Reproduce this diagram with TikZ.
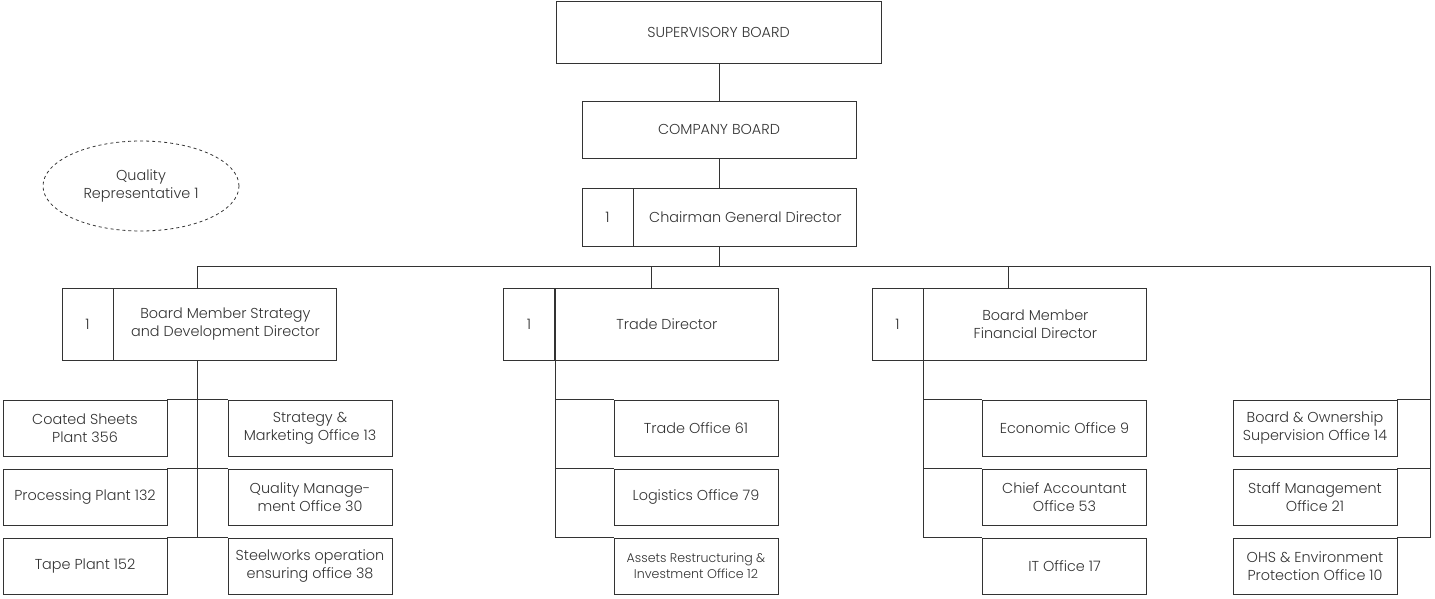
\documentclass[tikz,border=0pt]{standalone}
\usepackage{fontspec}
\setmainfont{Poppins Light}
\usetikzlibrary{positioning,shapes.geometric}
\definecolor{inkgray}{HTML}{333333}
\tikzstyle{unit} = [rectangle, draw=inkgray, line width=0.9pt, text=inkgray, align=center, inner sep=0pt, font=\fontsize{14.4}{18}\selectfont]
\tikzstyle{top} = [unit, minimum width=325pt, minimum height=62pt]
\tikzstyle{board} = [unit, minimum width=274pt, minimum height=57pt]
\tikzstyle{num} = [unit, minimum width=51pt]
\tikzstyle{head} = [unit, minimum width=223pt]
\tikzstyle{office} = [unit, minimum width=164pt, minimum height=56pt]
\tikzstyle{link} = [draw=inkgray, line width=0.9pt]

\begin{document}
\begin{tikzpicture}[x=1pt, y=1pt]
\useasboundingbox (0,0) rectangle (1435,-599);

% top of the chart
\node (sup) [top] at (718.5,-32) {SUPERVISORY BOARD};
\node (board) [board] at (719,-129.5) {COMPANY BOARD};
\node (chairnum) [num, minimum height=58pt] at (607.5,-217) {1};
\node (chair) [head, minimum height=58pt, right=0pt of chairnum] {Chairman General Director};

% directors
\node (sdnum) [num, minimum height=72pt] at (87.5,-324) {1};
\node (sd) [head, minimum height=72pt, right=0pt of sdnum] {Board Member Strategy\\and Development Director};
\node (tdnum) [num, minimum height=72pt] at (529,-324) {1};
\node (td) [head, minimum height=72pt, right=0pt of tdnum] {Trade Director};
\node (fdnum) [num, minimum height=72pt] at (897.5,-324) {1};
\node (fd) [head, minimum height=72pt, right=0pt of fdnum] {Board Member\\Financial Director};

% quality representative
\node (qr) [ellipse, draw=inkgray, dashed, line width=0.8pt, text=inkgray, align=center,
  minimum width=196pt, minimum height=90pt, inner sep=0pt, font=\fontsize{14.4}{18}\selectfont]
  at (141,-186) {Quality\\Representative 1};

% strategy and development offices
\node (cs) [office] at (85,-428) {Coated Sheets\\Plant 356};
\node (pp) [office] at (85,-497) {Processing Plant 132};
\node (tp) [office] at (85,-566) {Tape Plant 152};
\node (sm) [office] at (310,-428) {Strategy \&\\Marketing Office 13};
\node (qm) [office] at (310,-497) {Quality Manage-\\ment Office 30};
\node (sw) [office] at (310,-566) {Steelworks operation\\ensuring office 38};

% trade offices
\node (to) [office] at (696,-428) {Trade Office 61};
\node (lo) [office] at (696,-497) {Logistics Office 79};
\node (ar) [office, font=\fontsize{12.6}{16}\selectfont] at (696,-566) {Assets Restructuring \&\\Investment Office 12};

% financial offices
\node (eo) [office] at (1064.5,-428) {Economic Office 9};
\node (ca) [office] at (1064.5,-497) {Chief Accountant\\Office 53};
\node (it) [office] at (1064.5,-566) {IT Office 17};

% offices under the chairman
\node (bo) [office] at (1315,-428) {Board \& Ownership\\Supervision Office 14};
\node (st) [office] at (1315,-497) {Staff Management\\Office 21};
\node (oh) [office] at (1315,-566) {OHS \& Environment\\Protection Office 10};

% bus
\coordinate (busl) at (197,-266);
\coordinate (busr) at (1430,-266);
\coordinate (tdtap) at (651,-266);
\coordinate (fdtap) at (1008,-266);

\draw[link] (sup.south -| board.north) -- (board.north);
\draw[link] (board.south) -- (board.south |- chair.north);
\draw[link] (board.south |- chair.south) -- (board.south |- busl);
\draw[link] (busl) -- (busr);
\draw[link] (busl) -- (busl |- sd.north);
\draw[link] (tdtap) -- (tdtap |- td.north);
\draw[link] (fdtap) -- (fdtap |- fd.north);
\draw[link] (busr) -- (busr |- oh.north);

% strategy branch
\draw[link] (busl |- sd.south) -- (busl |- tp.north);
\draw[link] (cs.north east) -- (sm.north west);
\draw[link] (pp.north east) -- (qm.north west);
\draw[link] (tp.north east) -- (sw.north west);

% trade branch
\draw[link] (td.south west) -- (td.south west |- ar.north);
\draw[link] (td.south west |- to.north) -- (to.north west);
\draw[link] (td.south west |- lo.north) -- (lo.north west);
\draw[link] (td.south west |- ar.north) -- (ar.north west);

% financial branch
\draw[link] (fd.south west) -- (fd.south west |- it.north);
\draw[link] (fd.south west |- eo.north) -- (eo.north west);
\draw[link] (fd.south west |- ca.north) -- (ca.north west);
\draw[link] (fd.south west |- it.north) -- (it.north west);

% right branch
\draw[link] (bo.north east) -- (busr |- bo.north);
\draw[link] (st.north east) -- (busr |- st.north);
\draw[link] (oh.north east) -- (busr |- oh.north);
\end{tikzpicture}
\end{document}
